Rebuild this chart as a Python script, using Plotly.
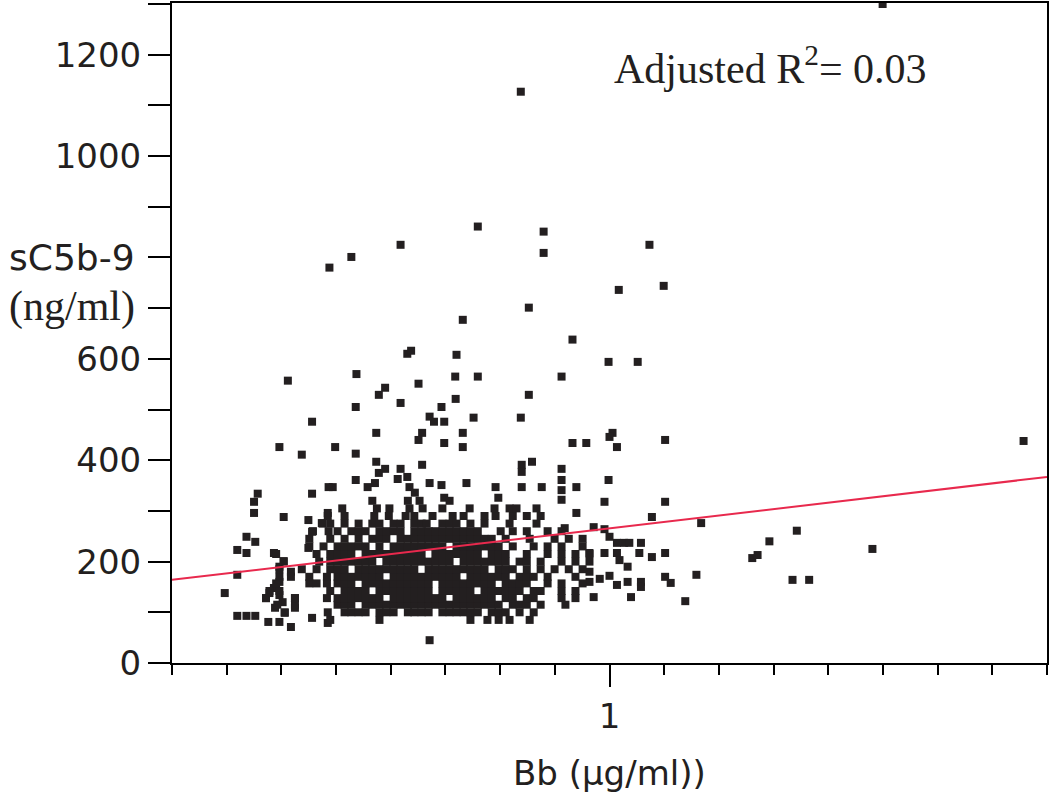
import plotly.graph_objects as go

# Bb (ug/ml) vs sC5b-9 (ng/ml)

# sparse points (outliers and cluster fringe)
sparse_bb = [
    4.21, 0.627, 0.500, 0.707, 0.707, 0.333, 1.234, 0.257, 0.229, 1.33, 1.05,
    0.654, 0.462, 0.823, 0.345, 0.352, 0.447, 0.995, 1.16, 0.264, 0.184, 0.307,
    0.366, 0.444, 0.500, 0.777,
    0.297, 0.263, 0.333, 0.413, 0.445, 0.388, 0.397, 0.419, 0.293, 0.373, 0.366,
    0.419, 0.236, 0.263, 0.293, 0.373, 0.307, 0.297, 0.333, 0.263, 0.291, 0.280,
    0.328, 0.345, 0.349, 0.359, 0.388, 0.413, 0.233, 0.419,
    0.654, 0.489, 0.627, 0.462, 0.462, 0.823, 0.885, 0.630, 0.630, 0.665, 0.777,
    0.777, 0.777, 0.777, 0.471, 0.549, 0.630, 0.700, 0.840, 0.557, 0.840, 0.790,
    0.209, 0.176, 0.198, 0.157, 0.154, 0.154, 0.180, 0.209, 0.228, 0.148, 0.155,
    0.141, 0.148, 0.171, 0.180, 0.176, 0.187, 0.141, 0.132, 0.176, 0.171, 0.167,
    0.164, 0.176, 0.179, 0.191, 0.172, 0.191, 0.181, 0.141, 0.148, 0.155, 0.166,
    0.176, 0.187, 0.209, 0.205, 0.209, 0.205, 0.220, 0.227, 0.227, 0.388,
    1.016, 1.0, 1.04, 1.34, 0.995, 0.974, 1.34, 1.25, 0.92, 0.974, 1.0, 1.04,
    1.08, 1.11, 1.18, 0.90, 0.974, 1.04, 1.054, 1.17, 1.25, 1.34, 1.10, 0.90,
    0.95, 1.0, 1.04, 1.10, 1.18, 1.18, 1.34, 1.38, 1.58, 0.92, 1.12, 1.49, 0.90,
    1.62, 2.12, 2.18, 2.32, 2.68, 2.62, 2.86, 3.99, 8.84,
]
sparse_sc = [
    1300, 1127, 861, 851, 809, 825, 825, 801, 780, 744, 736,
    701, 677, 638, 610, 616, 608, 594, 594, 570, 557, 543,
    551, 565, 565, 565,
    529, 505, 513, 505, 521, 486, 476, 476, 454, 454, 440,
    434, 426, 413, 397, 391, 383, 375, 383, 361, 355, 347,
    363, 367, 347, 336, 355, 351, 347, 326,
    529, 484, 484, 454, 426, 434, 434, 391, 377, 397, 383,
    361, 341, 322, 355, 347, 347, 347, 347, 326, 296, 266,
    476, 426, 411, 334, 318, 296, 288, 334, 347, 249, 239,
    223, 217, 217, 201, 190, 180, 174, 138, 160, 148, 138,
    128, 134, 120, 128, 109, 109, 99, 93, 93, 93, 81,
    81, 71, 89, 282, 259, 227, 276, 296, 79, 45,
    454, 446, 426, 440, 361, 318, 318, 288, 268, 264, 249, 237,
    237, 237, 237, 217, 217, 217, 203, 217, 209, 217, 190, 180,
    166, 172, 154, 160, 160, 150, 170, 158, 174, 130, 130, 122, 160,
    276, 207, 213, 240, 261, 164, 164, 225, 438,
]

# dense core, read row by row: one sC5b-9 level per row, Bb values along it
row_sc = [85, 100, 115, 128, 142, 157, 170, 185, 200, 215, 230, 245, 260, 275, 290, 305, 320]
row_bb = [
    [0.230, 0.298, 0.481, 0.526, 0.558, 0.591, 0.657],
    [0.181, 0.227, 0.248, 0.257, 0.267, 0.277, 0.298, 0.309, 0.321, 0.346, 0.358,
     0.372, 0.386, 0.415, 0.431, 0.447, 0.464, 0.481, 0.500, 0.538, 0.558, 0.579,
     0.623, 0.671],
    [0.174, 0.191, 0.239, 0.248, 0.257, 0.277, 0.287, 0.298, 0.309, 0.321, 0.333,
     0.346, 0.358, 0.372, 0.386, 0.400, 0.415, 0.431, 0.447, 0.464, 0.481, 0.500,
     0.518, 0.538, 0.558, 0.601, 0.623, 0.647, 0.696, 0.793],
    [0.164, 0.191, 0.226, 0.239, 0.248, 0.257, 0.267, 0.277, 0.287, 0.298,
     0.321, 0.333, 0.346, 0.358, 0.372, 0.386, 0.400, 0.415, 0.447, 0.464,
     0.481, 0.500, 0.518, 0.538, 0.579, 0.601, 0.647, 0.671, 0.777, 0.836],
    [0.167, 0.176, 0.230, 0.248, 0.257, 0.267, 0.277, 0.298, 0.309, 0.321,
     0.333, 0.346, 0.358, 0.372, 0.386, 0.415, 0.431, 0.447, 0.464, 0.481,
     0.518, 0.538, 0.558, 0.579, 0.601, 0.623, 0.671, 0.696, 0.777, 0.836],
    [0.173, 0.206, 0.214, 0.226, 0.239, 0.248, 0.257, 0.277, 0.287, 0.298,
     0.309, 0.321, 0.333, 0.346, 0.358, 0.372, 0.386, 0.415, 0.431, 0.447,
     0.464, 0.481, 0.500, 0.518, 0.538, 0.579, 0.601, 0.623, 0.647, 0.722,
     0.777, 0.868],
    [0.176, 0.187, 0.206, 0.226, 0.239, 0.248, 0.257, 0.267, 0.277, 0.287, 0.298,
     0.321, 0.333, 0.346, 0.358, 0.372, 0.386, 0.400, 0.415, 0.431, 0.447,
     0.481, 0.500, 0.518, 0.538, 0.558, 0.579, 0.623, 0.647, 0.671, 0.722, 0.836],
    [0.176, 0.198, 0.214, 0.230, 0.239, 0.248, 0.267, 0.277, 0.287, 0.298,
     0.309, 0.321, 0.333, 0.346, 0.358, 0.386, 0.400, 0.415, 0.431, 0.447,
     0.464, 0.481, 0.500, 0.518, 0.558, 0.579, 0.601, 0.647, 0.696, 0.749,
     0.807, 0.868],
    [0.180, 0.217, 0.230, 0.239, 0.248, 0.257, 0.267, 0.277, 0.287, 0.309,
     0.321, 0.333, 0.346, 0.358, 0.372, 0.386, 0.400, 0.415, 0.431, 0.464,
     0.481, 0.500, 0.518, 0.538, 0.558, 0.579, 0.623, 0.647, 0.696, 0.777, 0.836,
     0.900],
    [0.173, 0.214, 0.230, 0.239, 0.248, 0.257, 0.277, 0.287, 0.298, 0.309,
     0.321, 0.333, 0.346, 0.358, 0.372, 0.400, 0.415, 0.431, 0.447, 0.464,
     0.481, 0.500, 0.538, 0.558, 0.579, 0.647, 0.722, 0.777, 0.836, 0.900],
    [0.206, 0.222, 0.239, 0.248, 0.257, 0.267, 0.277, 0.298, 0.321, 0.333,
     0.346, 0.358, 0.372, 0.386, 0.400, 0.415, 0.447, 0.464, 0.481, 0.500,
     0.518, 0.538, 0.558, 0.601, 0.671, 0.722, 0.777, 0.868],
    [0.206, 0.230, 0.248, 0.267, 0.287, 0.298, 0.309, 0.333, 0.346, 0.358, 0.372,
     0.386, 0.400, 0.415, 0.431, 0.447, 0.464, 0.481, 0.500, 0.518, 0.538, 0.579,
     0.657, 0.749, 0.807, 0.868],
    [0.210, 0.228, 0.239, 0.257, 0.267, 0.277, 0.298, 0.309, 0.321, 0.333, 0.358,
     0.372, 0.386, 0.400, 0.415, 0.431, 0.447, 0.464, 0.481, 0.500, 0.564, 0.601,
     0.647, 0.722, 0.777],
    [0.221, 0.230, 0.248, 0.267, 0.287, 0.298, 0.321, 0.333, 0.358, 0.372, 0.382,
     0.415, 0.431, 0.447, 0.481, 0.518, 0.591, 0.681],
    [0.227, 0.248, 0.290, 0.313, 0.342, 0.358, 0.394, 0.438, 0.464, 0.518, 0.549,
     0.601, 0.647, 0.696],
    [0.245, 0.294, 0.314, 0.349, 0.374, 0.415, 0.479, 0.546, 0.591, 0.613, 0.681],
    [0.287, 0.346, 0.368, 0.431],
]

# regression line end points
fit_bb = [0.1, 10]
fit_sc = [164, 367]

bb = list(sparse_bb)
sc = list(sparse_sc)
for level, vals in zip(row_sc, row_bb):
    bb.extend(vals)
    sc.extend([level] * len(vals))

y_ticks = list(range(0, 1301, 100))
y_labels = ["0", " ", "200", " ", "400", " ", "600", " ", " ", " ", "1000", " ", "1200", " "]
x_minor = [10 ** (k / 8) for k in range(-8, 9) if k != 0]

sans = "DejaVu Sans"
serif = "Liberation Serif"
ink = '#231f20'

fig = go.Figure()

fig.add_trace(go.Scatter(
    x=bb, y=sc,
    mode='markers',
    marker=dict(symbol='square', size=8, color=ink),
    showlegend=False,
))

fig.add_trace(go.Scatter(
    x=fit_bb, y=fit_sc,
    mode='lines',
    line=dict(color='#e8294d', width=2),
    showlegend=False,
))

fig.update_xaxes(
    type='log', range=[-1, 1], automargin=False,
    tickmode='array', tickvals=[1], ticktext=['1'],
    ticks='outside', ticklen=22, tickwidth=2, tickcolor='black',
    minor=dict(tickmode='array', tickvals=x_minor, ticks='outside',
               ticklen=10, tickwidth=2, tickcolor='black'),
    showline=True, linecolor='black', linewidth=2, mirror=True,
    showgrid=False, zeroline=False,
    tickfont=dict(family=sans, size=34, color=ink),
)

fig.update_yaxes(
    range=[0, 1302], automargin=False,
    tickmode='array', tickvals=y_ticks, ticktext=y_labels,
    ticks='outside', ticklen=22, tickwidth=2, tickcolor='black',
    showline=True, linecolor='black', linewidth=2, mirror=True,
    showgrid=False, zeroline=False,
    tickfont=dict(family=sans, size=34, color=ink),
)

fig.add_annotation(
    text="Adjusted R<sup>2</sup>= 0.03", xref='paper', yref='paper',
    x=0.503, y=0.906, xanchor='left', yanchor='middle', showarrow=False,
    font=dict(family=serif, size=42, color=ink),
)
fig.add_annotation(
    text="sC5b-9", xref='paper', yref='paper',
    x=-0.04, y=0.615, xanchor='right', yanchor='middle', showarrow=False,
    font=dict(family=sans, size=36, color=ink),
)
fig.add_annotation(
    text="(ng/ml)", xref='paper', yref='paper',
    x=-0.04, y=0.54, xanchor='right', yanchor='middle', showarrow=False,
    font=dict(family=serif, size=42, color=ink),
)
fig.add_annotation(
    text="Bb (μg/ml))", xref='paper', yref='paper',
    x=0.5, y=-0.167, xanchor='center', yanchor='middle', showarrow=False,
    font=dict(family=sans, size=34, color=ink),
)

fig.update_layout(
    width=1050, height=795,
    margin=dict(l=172, r=3, t=3, b=132, autoexpand=False),
    paper_bgcolor='white', plot_bgcolor='white',
    showlegend=False,
)

fig.write_html("out.html", config={'displayModeBar': False},
               post_script="document.body.style.margin='0px';")
